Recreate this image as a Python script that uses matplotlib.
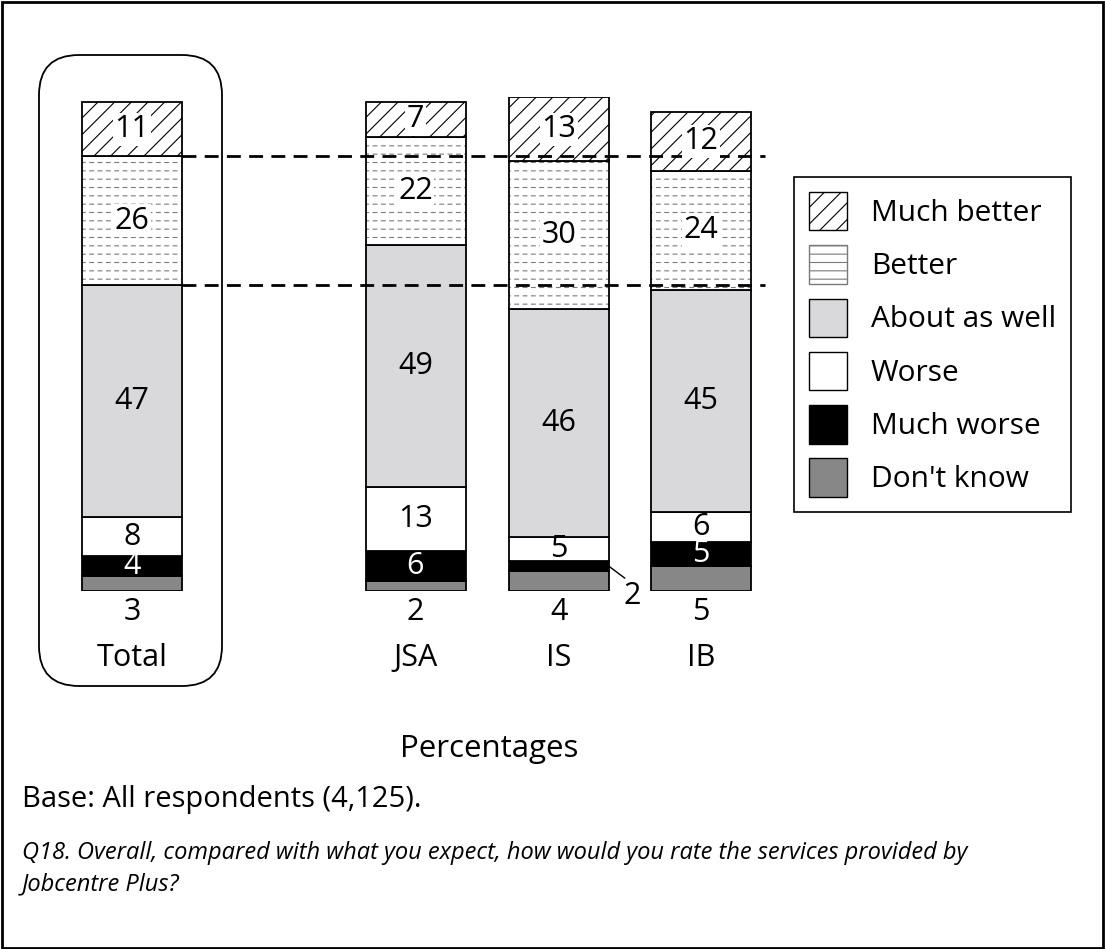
import matplotlib
matplotlib.use("Agg")
import matplotlib.pyplot as plt
from matplotlib.patches import Patch, FancyBboxPatch, Rectangle
from matplotlib.transforms import IdentityTransform
import numpy as np

plt.rcParams['font.family'] = ['Open Sans', 'DejaVu Sans']
plt.rcParams['hatch.linewidth'] = 0.8

groups = ["Total", "JSA", "IS", "IB"]
responses = ["Don't know", "Much worse", "Worse", "About as well", "Better", "Much better"]
dont_know = [3, 2, 4, 5]
much_worse = [4, 6, 2, 5]
worse = [8, 13, 5, 6]
about_as_well = [47, 49, 46, 45]
better = [26, 22, 30, 24]
much_better = [11, 7, 13, 12]

series = [dont_know, much_worse, worse, about_as_well, better, much_better]
face = ["#878787", "#000000", "#ffffff", "#d9d9db", "#ffffff", "#ffffff"]
hatch = [None, None, None, None, "--", "//"]
hatch_col = [None, None, None, None, "#7a7a7a", "#000000"]

W, H = 1105, 949
fig = plt.figure(figsize=(W / 100, H / 100), dpi=100)
ax = fig.add_axes([0, 1 - 591 / H, 1, 494 / H])
ax.set_xlim(0, 11.05)
ax.set_ylim(0, 100)
ax.axis("off")

xpos = np.array([1.32, 4.155, 5.59, 7.01])
bw = 1.0


def dash_breaks(x, h, b):
    # white vertical hatch over the horizontal one, so the lines look dashed
    with plt.rc_context({'hatch.linewidth': 2.5}):
        ax.bar(x, h, bw, bottom=b, fill=False, hatch="||", edgecolor="white", linewidth=0)


bottom = np.zeros(len(groups))
for vals, fc, h, hc in zip(series, face, hatch, hatch_col):
    vals = np.array(vals, dtype=float)
    if h:
        ax.bar(xpos, vals, bw, bottom=bottom, color=fc, hatch=h, edgecolor=hc, linewidth=0)
        if h == "--":
            dash_breaks(xpos, vals, bottom)
        ax.bar(xpos, vals, bw, bottom=bottom, fill=False, edgecolor="black", linewidth=1.3)
    else:
        ax.bar(xpos, vals, bw, bottom=bottom, color=fc, edgecolor="black", linewidth=1.3)
    bottom += vals

# value labels
fs = 22
cum = np.zeros(len(groups))
for k, vals in enumerate(series):
    for i, v in enumerate(vals):
        mid = cum[i] + v / 2
        if k == 0:
            ax.text(xpos[i], -4.2, str(v), ha="center", va="center", fontsize=fs)
        elif k == 1 and v <= 2:
            # small segment labelled outside with a leader line
            ax.annotate(str(v), xy=(xpos[i] + bw / 2, mid), xytext=(xpos[i] + bw / 2 + 0.23, -1.0),
                        ha="center", va="center", fontsize=fs,
                        arrowprops=dict(arrowstyle="-", color="black", lw=1, shrinkA=0, shrinkB=0,
                                        relpos=(0.3, 1.0)))
        elif k == 1:
            ax.text(xpos[i], mid, str(v), ha="center", va="center", fontsize=fs, color="white")
        elif k >= 4:
            ax.text(xpos[i], mid, str(v), ha="center", va="center", fontsize=fs,
                    bbox=dict(facecolor="white", edgecolor="none", pad=1))
        else:
            ax.text(xpos[i], mid, str(v), ha="center", va="center", fontsize=fs)
    cum += np.array(vals)

for x, g in zip(xpos, groups):
    ax.text(x, -13.6, g, ha="center", va="center", fontsize=fs)

# dashed reference lines from the Total bar
tot = np.cumsum([s[0] for s in series])
ax.hlines([tot[3], tot[4]], xpos[0] + bw / 2, 7.65, colors="black", linestyles=(0, (5, 3)), linewidth=2)

# rounded box around Total
fig.patches.append(FancyBboxPatch((39, H - 686), 183, 631, boxstyle="round,pad=0,rounding_size=40",
                                  transform=IdentityTransform(), fill=False, edgecolor="black", linewidth=1.3))
# outer frame
fig.patches.append(Rectangle((0.002, 0.001), 0.996, 0.997, transform=fig.transFigure,
                             fill=False, edgecolor="black", linewidth=2))

handles = []
for fc, h, hc in zip(face, hatch, hatch_col):
    if h:
        handles.append(Patch(facecolor=fc, hatch=h, edgecolor=hc, linewidth=1))
    else:
        handles.append(Patch(facecolor=fc, edgecolor="black", linewidth=1))
leg = fig.legend(handles[::-1], responses[::-1], loc="upper left", bbox_to_anchor=(794 / W, 1 - 177 / H),
                 fontsize=21.5, frameon=True, fancybox=False, edgecolor="black", framealpha=1,
                 handlelength=1.27, handleheight=1.6, handletextpad=0.8, labelspacing=0.5,
                 borderpad=0.5, borderaxespad=0)
leg.get_frame().set_linewidth(1.2)

fig.text(489 / W, 1 - 749 / H, "Percentages", ha="center", va="center", fontsize=22.5)
fig.text(22 / W, 1 - 800 / H, "Base: All respondents (4,125).", ha="left", va="center", fontsize=21)
fig.text(22 / W, 1 - 869 / H,
         "Q18. Overall, compared with what you expect, how would you rate the services provided by\nJobcentre Plus?",
         ha="left", va="center", fontsize=17, style="italic", linespacing=1.4)

fig.savefig("out.png", dpi=100)
